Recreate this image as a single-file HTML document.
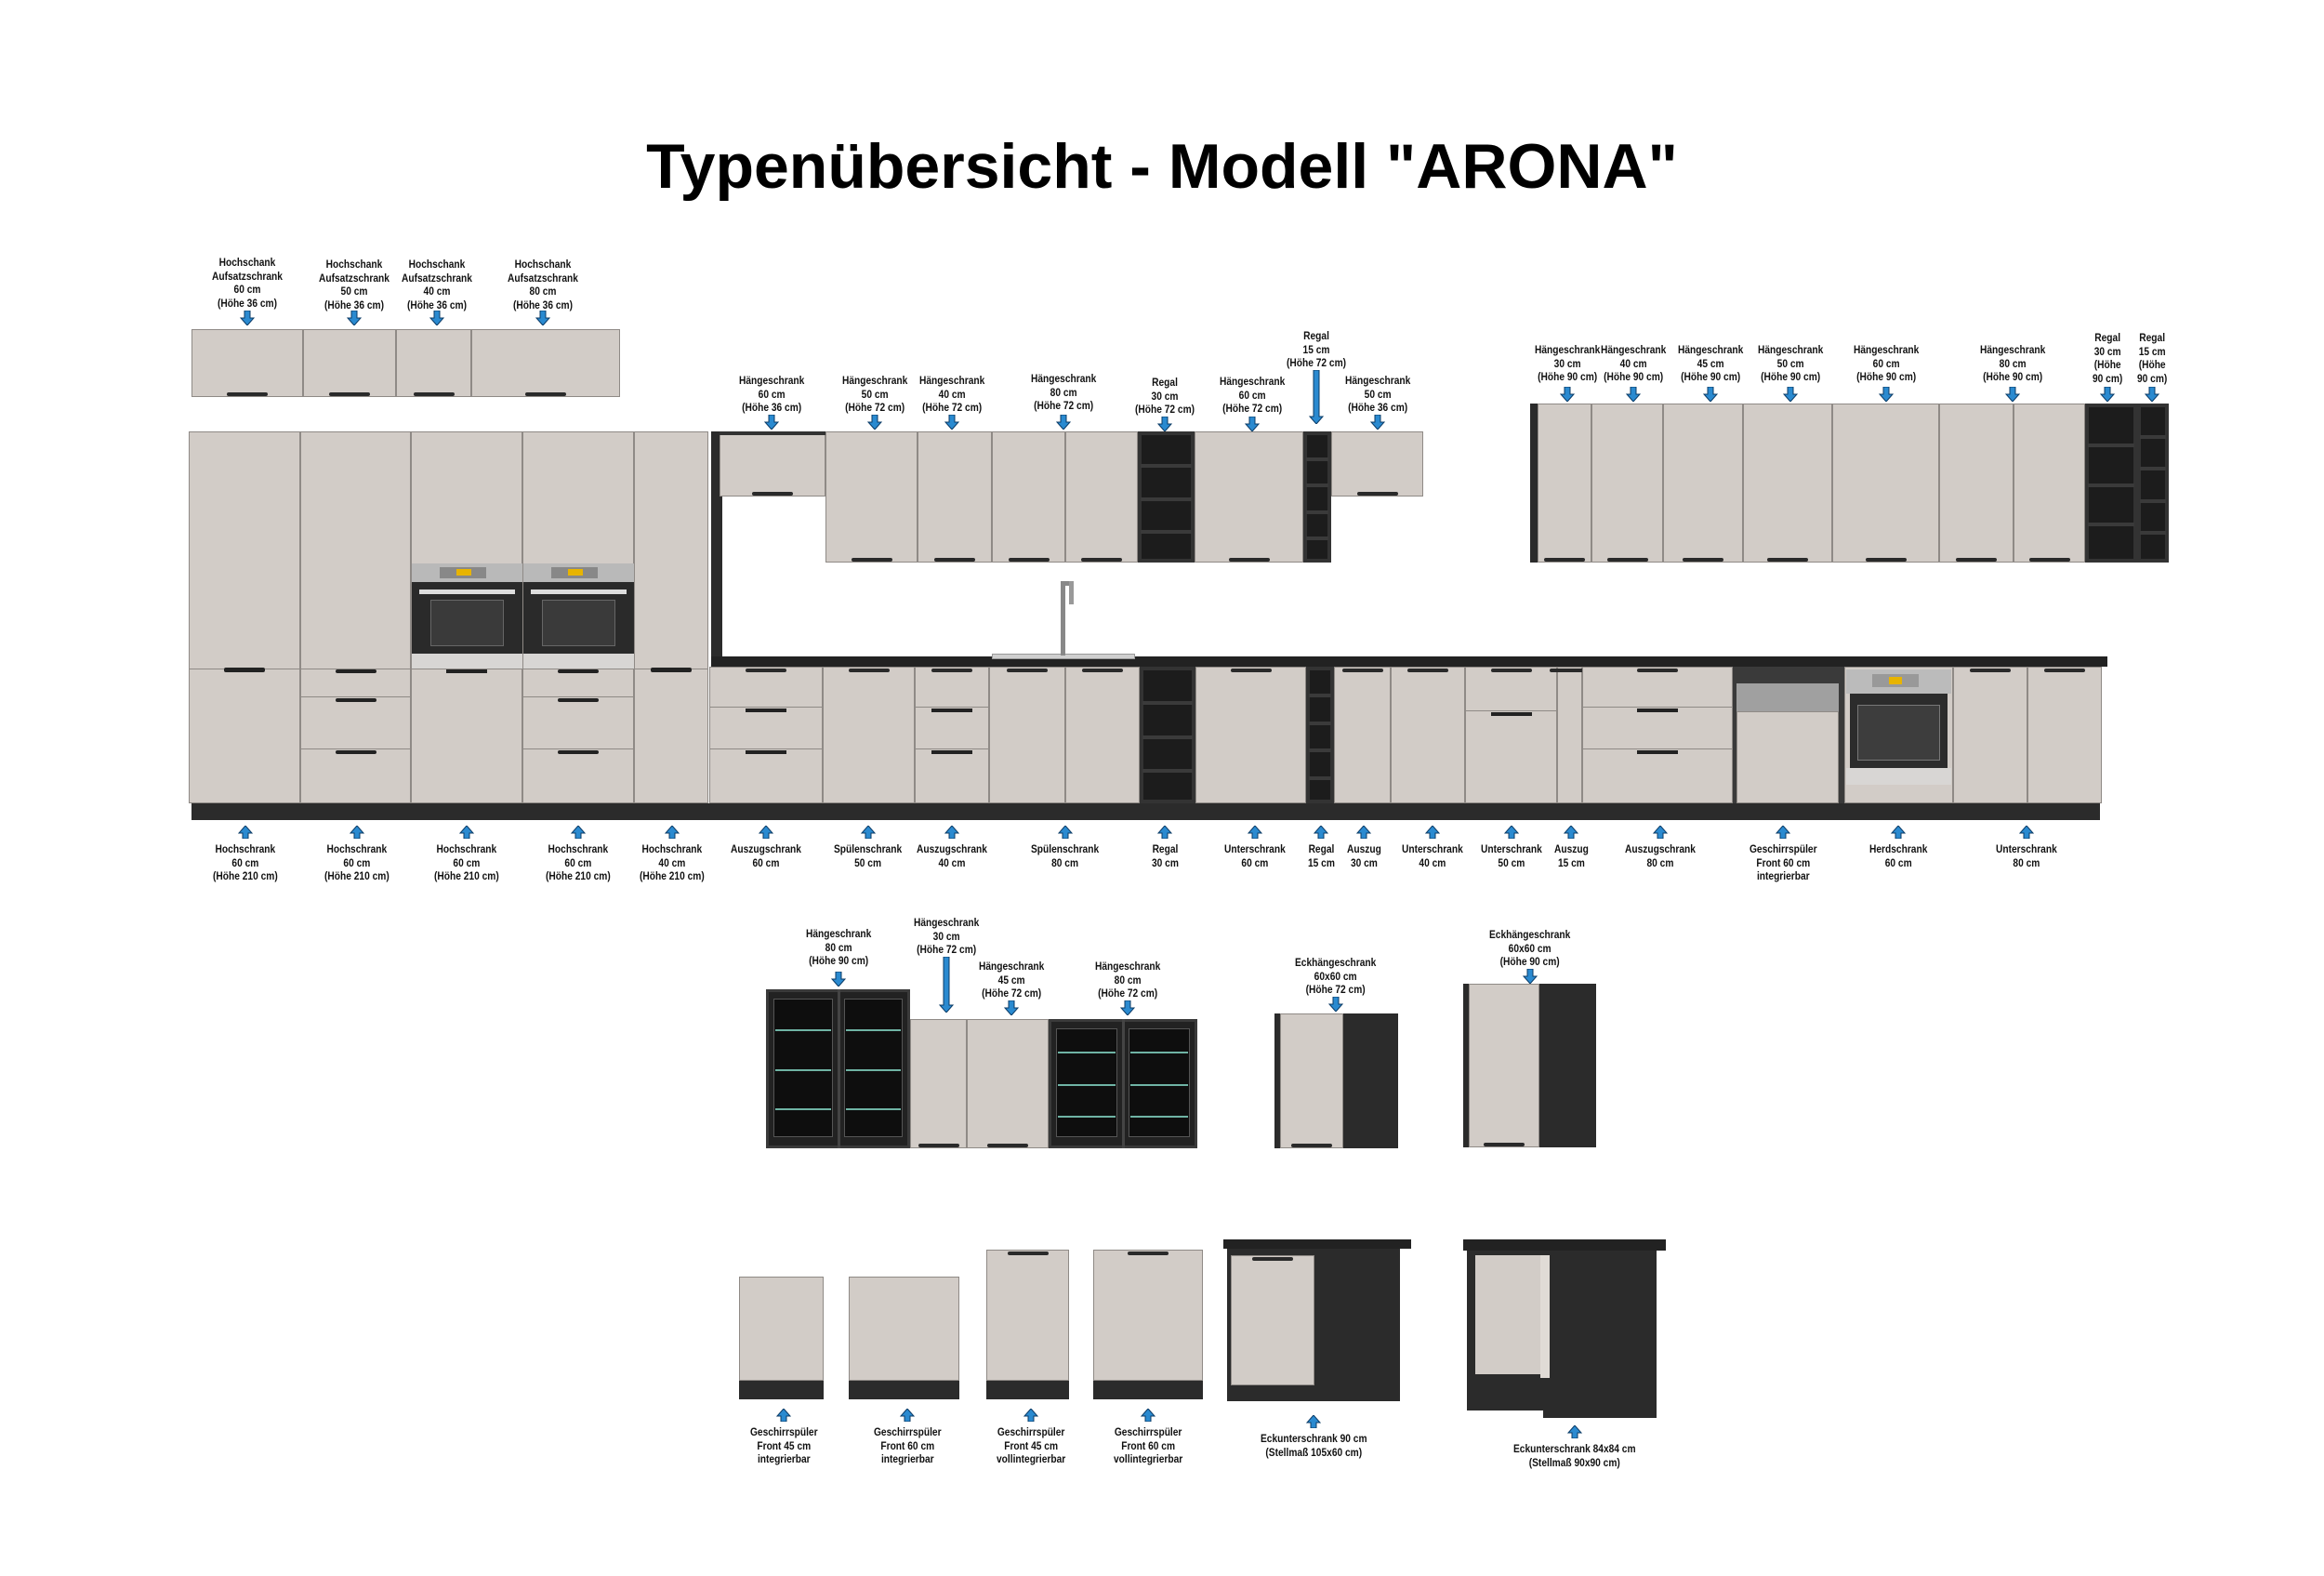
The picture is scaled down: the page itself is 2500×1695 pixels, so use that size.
<!DOCTYPE html>
<html><head><meta charset="utf-8">
<style>
html,body{margin:0;padding:0;background:#fff;}
#c{position:relative;width:2500px;height:1695px;overflow:hidden;background:#fff;font-family:"Liberation Sans Narrow","Liberation Sans",sans-serif;}
.r{position:absolute;box-sizing:border-box;}
.l{position:absolute;text-align:center;font-weight:bold;font-size:12px;line-height:14.5px;color:#111;white-space:nowrap;transform:translateX(-50%) scaleX(.85);transform-origin:left top;}
.a{position:absolute;}
h1{position:absolute;left:0;width:2500px;top:140px;margin:0;text-align:center;font:bold 68px "Liberation Sans",sans-serif;color:#000;}
</style></head><body><div id="c">
<h1>Typenübersicht - Modell "ARONA"</h1>
</div>
<script>
const C=document.getElementById('c');
const L='#d2ccc7',D='#2b2b2b',E='#8f8a86';
function r(x,y,w,h,bg,ex){const d=document.createElement('div');d.className='r';d.style.cssText=`left:${x}px;top:${y}px;width:${w}px;height:${h}px;background:${bg};`+(ex||'');C.appendChild(d);return d;}
function cab(x1,x2,y1,y2,hd){r(x1,y1,x2-x1,y2-y1,L,'border:1px solid '+E+';');
 if(hd==='b')r((x1+x2)/2-22,y2-5,44,4,'#2a2a2a','border-radius:2px;');
 if(hd==='t')r((x1+x2)/2-22,y1+2,44,4,'#2a2a2a','border-radius:2px;');}
function shelf(x1,x2,y1,y2,n){r(x1,y1,x2-x1,y2-y1,'#1c1c1c','border:4px solid #333;');for(let i=1;i<n;i++)r(x1+3,y1+(y2-y1)*i/n,x2-x1-6,4,'#3a3a3a');}
function arr(cx,y,up,len){len=len||16;const s=document.createElementNS('http://www.w3.org/2000/svg','svg');s.setAttribute('width',16);s.setAttribute('height',len);s.style.cssText=`position:absolute;left:${cx-8}px;top:${y}px;`;
 const h=8;let p;if(!up)p=`M5,0 H11 V${len-h} H15 L8,${len} L1,${len-h} H5 Z`;else p=`M8,0 L15,${h} H11 V${len} H5 V${h} H1 Z`;
 s.innerHTML=`<path d="${p}" fill="#2a8ad0" stroke="#0b3b66" stroke-width="1"/>`;C.appendChild(s);}
function lab(cx,top,t){const d=document.createElement('div');d.className='l';d.style.left=cx+'px';d.style.top=top+'px';d.innerHTML=t.replace(/\|/g,'<br>');C.appendChild(d);
 const w=d.offsetWidth;d.style.transform='none';d.style.left=(cx-w*0.85/2)+'px';d.style.transform='scaleX(.85)';}
function dl(cx,top,t,ay,len){lab(cx,top,t);arr(cx,ay,false,len);}
function ul(cx,ay,t,len){arr(cx,ay,true,len);lab(cx,ay+(len||16)+4,t);}

[[206,326],[326,426],[426,507],[507,667]].forEach(a=>cab(a[0],a[1],354,427,'b'));
dl(266,275,'Hochschank|Aufsatzschrank|60 cm|(Höhe 36 cm)',334);
dl(381,277,'Hochschank|Aufsatzschrank|50 cm|(Höhe 36 cm)',334);
dl(470,277,'Hochschank|Aufsatzschrank|40 cm|(Höhe 36 cm)',334);
dl(584,277,'Hochschank|Aufsatzschrank|80 cm|(Höhe 36 cm)',334);

[[203,323],[323,442],[442,562],[562,682],[682,762]].forEach(a=>cab(a[0],a[1],464,864));
r(203,719,559,1,E);
[[203,323],[682,762]].forEach(a=>r((a[0]+a[1])/2-22,718,44,5,'#222','border-radius:2px'));
[[323,442],[562,682]].forEach(a=>{r(a[0],749,a[1]-a[0],1,E);r(a[0],805,a[1]-a[0],1,E);
 [720,751,807].forEach(y=>r((a[0]+a[1])/2-22,y,44,4,'#222','border-radius:2px'));});
r(442,719,120,1,E);r((442+562)/2-22,720,44,4,'#222');
[[443,562],[563,682]].forEach(a=>{r(a[0],606,a[1]-a[0],100,'#2a2a2a');r(a[0],606,a[1]-a[0],20,'#b9b9b9');
 r(a[0]+30,610,50,12,'#888');r(a[0]+48,612,16,7,'#e8b400');r(a[0]+8,634,a[1]-a[0]-16,5,'#ddd');
 r(a[0]+20,645,a[1]-a[0]-40,50,'#3a3a3a','border:1px solid #666');r(a[0],703,a[1]-a[0],16,'#d8d6d4');});
r(206,864,2053,18,D);
r(765,464,12,250,D);
r(765,706,1502,11,'#222');
cab(774,888,464,534,'b');r(774,464,114,4,'#333');
[[888,987],[987,1067],[1067,1146],[1146,1224]].forEach(a=>cab(a[0],a[1],464,605,'b'));
shelf(1224,1285,464,605,4);
cab(1285,1402,464,605,'b');
shelf(1402,1432,464,605,5);
cab(1432,1531,464,534,'b');
r(1646,434,8,171,D);
[[1654,1712],[1712,1789],[1789,1875],[1875,1971],[1971,2086],[2086,2166],[2166,2243]].forEach(a=>cab(a[0],a[1],434,605,'b'));
shelf(2243,2299,434,605,4);shelf(2299,2333,434,605,5);
r(1067,703,154,6,'#cfcfcf','border:1px solid #999');
r(1141,625,5,80,'#888');r(1141,625,14,5,'#888');r(1150,625,5,25,'#999');
const B=[[763,885,'d3'],[885,984,''],[984,1064,'d3'],[1064,1146,''],[1146,1226,''],[1226,1286,'s'],[1286,1405,''],[1405,1435,'s'],[1435,1496,''],[1496,1576,''],[1576,1675,'d2'],[1675,1702,''],[1702,1864,'d3'],[1864,1984,'dw'],[1984,2101,'ov'],[2101,2181,''],[2181,2261,'']];
B.forEach(b=>{const[x1,x2,t]=b;
 if(t==='s'){shelf(x1,x2,717,864,x2-x1>40?4:5);return;}
 if(t==='dw'){r(x1,717,x2-x1,147,'#3a3a3a');r(x1+4,735,x2-x1-10,30,'#a0a0a0');r(x1+4,765,x2-x1-10,99,L,'border:1px solid '+E);return;}
 if(t==='ov'){r(x1,717,x2-x1,147,L,'border:1px solid '+E);r(x1+2,720,x2-x1-4,26,'#bbb');r(x1+30,725,50,14,'#999');r(x1+48,728,14,8,'#e8b400');
   r(x1+6,746,x2-x1-12,80,'#2c2c2c');r(x1+14,758,x2-x1-28,60,'#3d3d3d','border:1px solid #777');r(x1+2,826,x2-x1-4,18,'#d8d6d4');return;}
 cab(x1,x2,717,864,'t');
 if(t==='d3'){r(x1,760,x2-x1,1,E);r(x1,805,x2-x1,1,E);r((x1+x2)/2-22,762,44,4,'#222');r((x1+x2)/2-22,807,44,4,'#222');}
 if(t==='d2'){r(x1,764,x2-x1,1,E);r((x1+x2)/2-22,766,44,4,'#222');}
});
dl(830,402,'Hängeschrank|60 cm|(Höhe 36 cm)',446);
dl(941,402,'Hängeschrank|50 cm|(Höhe 72 cm)',446);
dl(1024,402,'Hängeschrank|40 cm|(Höhe 72 cm)',446);
dl(1144,400,'Hängeschrank|80 cm|(Höhe 72 cm)',446);
dl(1253,404,'Regal|30 cm|(Höhe 72 cm)',448);
dl(1347,403,'Hängeschrank|60 cm|(Höhe 72 cm)',448);
dl(1416,354,'Regal|15 cm|(Höhe 72 cm)',398,58);
dl(1482,402,'Hängeschrank|50 cm|(Höhe 36 cm)',446);
[[1686,'30'],[1757,'40'],[1840,'45'],[1926,'50'],[2029,'60'],[2165,'80']].forEach(a=>dl(a[0],369,'Hängeschrank|'+a[1]+' cm|(Höhe 90 cm)',416));
dl(2267,356,'Regal|30 cm|(Höhe|90 cm)',416);
dl(2315,356,'Regal|15 cm|(Höhe|90 cm)',416);
[[264,'Hochschrank|60 cm|(Höhe 210 cm)'],[384,'Hochschrank|60 cm|(Höhe 210 cm)'],[502,'Hochschrank|60 cm|(Höhe 210 cm)'],[622,'Hochschrank|60 cm|(Höhe 210 cm)'],[723,'Hochschrank|40 cm|(Höhe 210 cm)'],
[824,'Auszugschrank|60 cm'],[934,'Spülenschrank|50 cm'],[1024,'Auszugschrank|40 cm'],[1146,'Spülenschrank|80 cm'],[1253,'Regal|30 cm'],[1350,'Unterschrank|60 cm'],[1421,'Regal|15 cm'],[1467,'Auszug|30 cm'],[1541,'Unterschrank|40 cm'],[1626,'Unterschrank|50 cm'],[1690,'Auszug|15 cm'],[1786,'Auszugschrank|80 cm'],[1918,'Geschirrspüler|Front 60 cm|integrierbar'],[2042,'Herdschrank|60 cm'],[2180,'Unterschrank|80 cm']].forEach(a=>ul(a[0],888,a[1],14));

function glass(x1,x2,y1,y2){r(x1,y1,x2-x1,y2-y1,'#222','border:3px solid #3a3a3a');const m=(x1+x2)/2;r(m-1,y1,3,y2-y1,'#444');
 [[x1+8,m-6],[m+6,x2-8]].forEach(g=>{r(g[0],y1+10,g[1]-g[0],y2-y1-22,'#0e0e0e','border:1px solid #555');
 for(let i=1;i<=3;i++)r(g[0]+2,y1+(y2-y1)*i/4,g[1]-g[0]-4,2,'#6fb3a4');});}
glass(824,979,1064,1235);
cab(979,1040,1096,1235,'b');cab(1040,1128,1096,1235,'b');
glass(1128,1288,1096,1235);
r(1371,1090,6,145,D);cab(1377,1445,1090,1235,'b');r(1445,1090,59,145,D);
r(1574,1058,6,176,D);cab(1580,1656,1058,1234,'b');r(1656,1058,61,176,D);
dl(902,997,'Hängeschrank|80 cm|(Höhe 90 cm)',1045);
dl(1018,985,'Hängeschrank|30 cm|(Höhe 72 cm)',1029,60);
dl(1088,1032,'Hängeschrank|45 cm|(Höhe 72 cm)',1076);
dl(1213,1032,'Hängeschrank|80 cm|(Höhe 72 cm)',1076);
dl(1437,1028,'Eckhängeschrank|60x60 cm|(Höhe 72 cm)',1072);
dl(1646,998,'Eckhängeschrank|60x60 cm|(Höhe 90 cm)',1042);

[[795,886,1373],[913,1032,1373],[1061,1150,1344],[1176,1294,1344]].forEach((a,i)=>{cab(a[0],a[1],a[2],1485,i>1?'t':'');r(a[0],1485,a[1]-a[0],20,D);});
r(1316,1333,202,10,'#222');r(1320,1343,186,164,D);cab(1324,1414,1350,1490,'t');
r(1574,1333,218,12,'#222');r(1578,1345,140,172,D);r(1660,1345,122,180,D);r(1587,1350,70,128,L);r(1657,1350,10,132,'#e0dbd6');
[[843,'Geschirrspüler|Front 45 cm|integrierbar'],[976,'Geschirrspüler|Front 60 cm|integrierbar'],[1109,'Geschirrspüler|Front 45 cm|vollintegrierbar'],[1235,'Geschirrspüler|Front 60 cm|vollintegrierbar']].forEach(a=>ul(a[0],1515,a[1],14));
ul(1413,1522,'Eckunterschrank 90 cm|(Stellmaß 105x60 cm)',14);
ul(1694,1533,'Eckunterschrank 84x84 cm|(Stellmaß 90x90 cm)',14);
</script>
</body></html>
